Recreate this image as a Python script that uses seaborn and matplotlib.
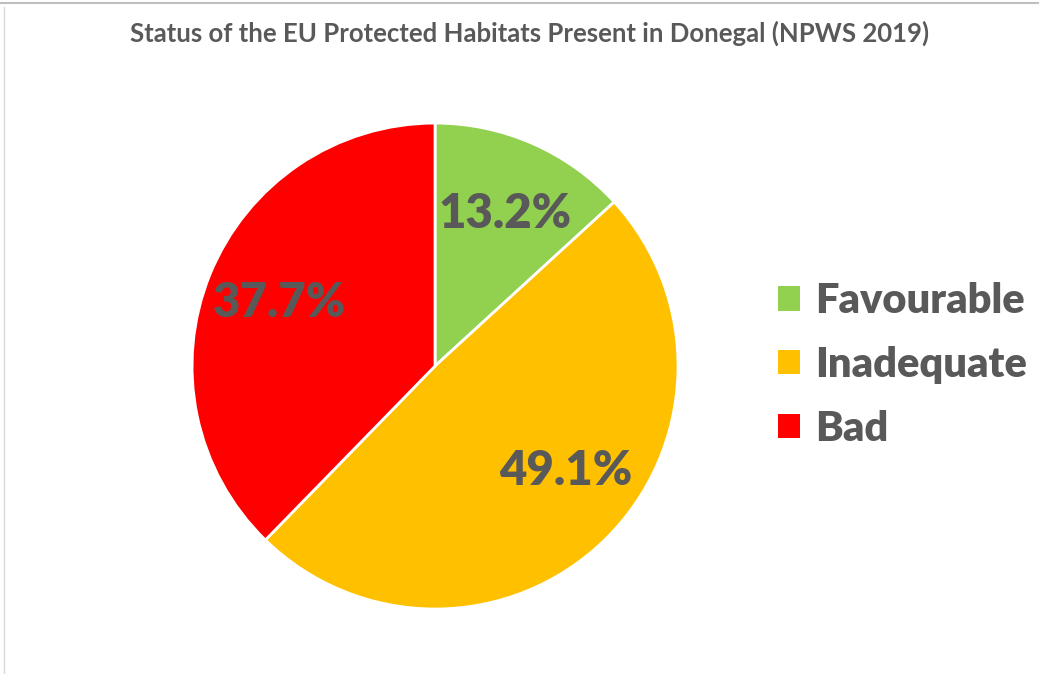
import matplotlib.pyplot as plt
import numpy as np
import seaborn as sns
from matplotlib.lines import Line2D
from matplotlib.patches import Patch

sns.set_theme(style='white')
plt.rcParams['font.family'] = ['Lato', 'DejaVu Sans']

# data
statuses = ['Favourable', 'Inadequate', 'Bad']
shares = [13.2, 49.1, 37.7]
colors = ['#92D050', '#FFC000', '#FF0000']
title = 'Status of the EU Protected Habitats Present in Donegal (NPWS 2019)'
text_grey = '#595959'

fig = plt.figure(figsize=(10.39, 6.74), dpi=100)
ax = fig.add_axes([0.1848, 0.0964, 0.4678, 0.721])

wedges, texts, autotexts = ax.pie(shares, colors=colors, startangle=90, counterclock=False,
                                  autopct='%1.1f%%', pctdistance=0.70,
                                  wedgeprops={'edgecolor': 'white', 'linewidth': 2})
ax.set_aspect('equal')
ax.set_xlim(-1, 1)
ax.set_ylim(-1, 1)

# excel puts the big slice label a bit higher than its mid angle
for w, t, dang in zip(wedges, autotexts, [-1, 7, 0]):
    ang = np.deg2rad((w.theta1 + w.theta2) / 2 + dang)
    t.set_position((0.69 * np.cos(ang), 0.69 * np.sin(ang)))
    t.set_fontsize(34)
    t.set_fontweight('heavy')
    t.set_color(text_grey)

fig.text(0.51, 0.951, title, ha='center', va='center', fontsize=18.5,
         fontweight='bold', color=text_grey)

handles = [Patch(facecolor=c, edgecolor='none') for c in colors]
fig.legend(handles, statuses, loc='center left', bbox_to_anchor=(0.749, 0.4585),
           frameon=False, handlelength=0.53, handleheight=0.53,
           handletextpad=0.36, labelspacing=0.62, borderpad=0, borderaxespad=0,
           labelcolor=text_grey, prop={'weight': 'heavy', 'size': 30})

# thin frame lines of the screenshot
fig.add_artist(Line2D([0, 1], [0.996, 0.996], color='#BFBFBF', lw=1.5, transform=fig.transFigure))
fig.add_artist(Line2D([0.004, 0.004], [0, 0.99], color='#D9D9D9', lw=1, transform=fig.transFigure))

fig.savefig('out.png', dpi=100)
